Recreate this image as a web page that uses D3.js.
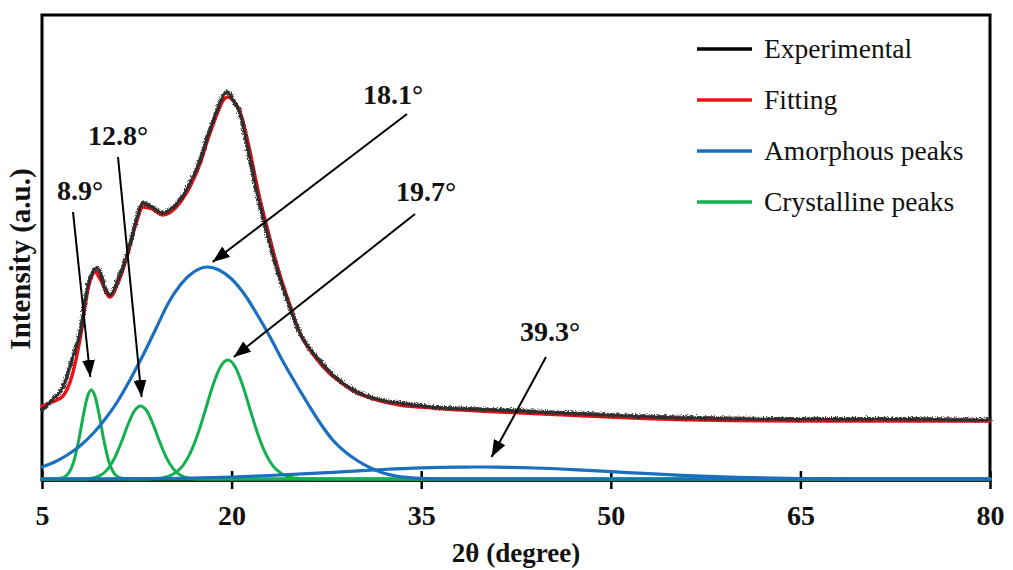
<!DOCTYPE html>
<html>
<head>
<meta charset="utf-8">
<script src="https://cdn.jsdelivr.net/npm/d3@7"></script>
<style>
  html, body { margin: 0; padding: 0; background: #ffffff; }
  svg { display: block; }
  text { font-family: "Liberation Serif", "Times New Roman", serif; fill: #111; }
</style>
</head>
<body>
<svg id="chart" width="1013" height="570"></svg>
<script>
// ---- XRD profile: measured pattern, fitted sum and deconvoluted peaks (a.u.) ----

const xTicks = [5, 20, 35, 50, 65, 80];

// Measured pattern
const expTheta = [5.0, 5.8, 6.66, 7.37, 8.0, 8.64, 9.0, 9.35, 9.65, 9.9, 10.38, 11.0, 11.72, 12.36, 13.0, 13.7, 14.57, 15.3, 15.9, 16.7, 17.5, 18.13, 18.85, 19.24, 19.64, 20.03, 20.66, 21.3, 22.0, 22.8, 23.6, 24.4, 25.4, 26.6, 27.8, 28.6, 29.5, 30.5, 31.5, 33.3, 35.9, 41.2, 46.5, 51.8, 57.1, 65.0, 73.7, 80.0];
const expInt   = [69, 79, 92, 119, 146, 194, 207, 211, 205, 194, 184, 199, 224, 254, 276, 272, 266, 271, 279, 296, 319, 344, 369, 381, 387, 381, 366, 329, 286, 246, 209, 179, 146, 124, 107, 98, 90, 84, 80, 76, 72, 69, 66, 63, 61, 60, 60, 59];

// Fitted envelope
const fitTheta = [5.0, 5.8, 6.66, 7.37, 8.0, 8.64, 9.2, 9.6, 10.38, 11.0, 11.72, 12.36, 13.0, 13.7, 14.57, 15.3, 15.9, 16.7, 17.5, 18.13, 18.85, 19.3, 19.7, 20.15, 20.75, 21.4, 22.1, 22.9, 23.7, 24.5, 25.4, 26.6, 27.8, 28.6, 29.5, 30.5, 31.5, 33.3, 35.9, 41.2, 46.5, 51.8, 57.1, 65.0, 73.7, 80.0];
const fitInt   = [73, 77, 83, 103, 139, 190, 207, 200, 182, 196, 222, 252, 272, 270, 264, 268, 276, 292, 315, 340, 365, 378, 382, 378, 364, 331, 288, 247, 209, 178, 146, 122, 105, 97, 89, 83, 79, 74, 71, 67, 64, 61, 59, 58, 58, 58];

// Amorphous peak centred at 18.1°
const amo1Theta = [5, 6, 7, 8, 9, 10, 11, 12, 13, 14, 15, 16, 17, 18.1, 19, 20, 21, 22, 23, 24, 25, 26, 27, 28, 29, 30, 31, 32, 33, 34, 35, 37, 40, 80];
const amo1Int   = [12, 17, 24, 33, 45, 60, 78, 100, 124, 150, 176, 195, 207, 212, 209, 200, 185, 165, 143, 119, 97, 76, 56, 39, 27, 18, 11, 6, 3, 1.5, 0.6, 0, 0, 0];

// Amorphous peak centred at 39.3°
const amo2Theta = [5, 12, 17, 20, 23, 26, 29, 32, 35, 38, 39.3, 41, 44, 47, 50, 53, 56, 60, 65, 70, 80];
const amo2Int   = [0, 0.3, 1, 2, 3.5, 5.3, 7.4, 9.5, 11.1, 11.9, 12, 11.8, 11, 9.4, 7.4, 5.3, 3.4, 1.7, 0.5, 0.1, 0];

// Crystalline peak centred at 8.9°
const cry1Theta = [5, 6.5, 7.0, 7.5, 7.9, 8.3, 8.6, 8.9, 9.2, 9.5, 9.9, 10.3, 10.8, 11.3, 12, 80];
const cry1Int   = [0, 0.7, 4.2, 17, 38.3, 65.7, 82.5, 89, 82.5, 65.7, 38.3, 17, 4.2, 0.7, 0, 0];

// Crystalline peak centred at 12.8°
const cry2Theta = [5, 7.8, 8.8, 9.6, 10.2, 10.8, 11.3, 11.8, 12.3, 12.8, 13.3, 13.8, 14.3, 14.8, 15.4, 16.0, 16.8, 18, 80];
const cry2Int   = [0, 0, 0.6, 3.5, 9.9, 22.4, 37.5, 54.3, 67.8, 73, 67.8, 54.3, 37.5, 22.4, 9.9, 3.5, 0.6, 0, 0];

// Crystalline peak centred at 19.7°
const cry3Theta = [5, 13, 14.5, 15.4, 16.1, 16.7, 17.3, 17.9, 18.5, 19.1, 19.7, 20.3, 20.9, 21.5, 22.1, 22.7, 23.3, 24.0, 24.9, 26.5, 80];
const cry3Int   = [0, 0, 1.1, 4.9, 12.6, 25.1, 43.9, 67.9, 92.8, 111.8, 119, 111.8, 92.8, 67.9, 43.9, 25.1, 12.6, 4.9, 1.1, 0, 0];

// Peak annotations
const peakLabels  = ["8.9°", "12.8°", "18.1°", "19.7°", "39.3°"];
const peakCenters = [8.9, 12.8, 18.1, 19.7, 39.3];
const peakHeights = [89, 73, 212, 119, 12];

const legendLabels = ["Experimental", "Fitting", "Amorphous peaks", "Crystalline peaks"];

// ---- layout & style ----
const margin = { left: 42, right: 990, top: 15, bottom: 479 };
const colors = { exp: "#2e2e2e", fit: "#f20f16", amo: "#1a6fc0", cry: "#12b04e" };

// text anchor (x, baseline), arrow tail, and tip offset from the peak top
const annLayout = [
  { tx: 57,  ty: 200, sx: 73,  sy: 212, dx: -1, dy: -13 },
  { tx: 88,  ty: 145, sx: 118, sy: 157, dx: 1,  dy: -9 },
  { tx: 363, ty: 104, sx: 407, sy: 114, dx: 5,  dy: -5 },
  { tx: 396, ty: 201, sx: 415, sy: 214, dx: 6,  dy: -3 },
  { tx: 520, ty: 341, sx: 546, sy: 357, dx: 16, dy: -10 }
];

const svg = d3.select("#chart");

const x = d3.scaleLinear().domain([5, 80]).range([margin.left, margin.right]);
const y = d3.scaleLinear().domain([0, 464]).range([margin.bottom, margin.top]);

const defs = svg.append("defs");

// grainy edge for the measured trace
const f = defs.append("filter").attr("id", "grain")
  .attr("x", "-5%").attr("y", "-5%").attr("width", "110%").attr("height", "110%");
f.append("feTurbulence").attr("type", "fractalNoise").attr("baseFrequency", "0.9 0.7")
  .attr("numOctaves", 2).attr("seed", 3).attr("result", "n");
f.append("feDisplacementMap").attr("in", "SourceGraphic").attr("in2", "n")
  .attr("scale", 5.5).attr("xChannelSelector", "R").attr("yChannelSelector", "G");

defs.append("marker").attr("id", "head")
  .attr("viewBox", "0 0 17 13").attr("refX", 17).attr("refY", 6.5)
  .attr("markerUnits", "userSpaceOnUse").attr("markerWidth", 17).attr("markerHeight", 13)
  .attr("orient", "auto")
  .append("path").attr("d", "M0,0 L17,6.5 L0,13 Z").attr("fill", "#000");

const line = d3.line()
  .x(d => x(d[0]))
  .y(d => y(d[1]))
  .curve(d3.curveMonotoneX);

const zipPts = (a, b) => a.map((t, i) => [t, b[i]]);

function drawSeries(theta, inten, color, width, extra) {
  const p = svg.append("path")
    .attr("d", line(zipPts(theta, inten)))
    .attr("fill", "none")
    .attr("stroke", color)
    .attr("stroke-width", width)
    .attr("stroke-linejoin", "round")
    .attr("stroke-linecap", "round");
  if (extra) extra(p);
  return p;
}

// x axis (bottom of the frame)
const xAxis = d3.axisBottom(x).tickValues(xTicks).tickSize(9).tickSizeOuter(0).tickFormat(d3.format("d"));
const gx = svg.append("g").attr("transform", `translate(0,${margin.bottom + 1})`).call(xAxis);
gx.select(".domain").attr("stroke", "#000").attr("stroke-width", 2.5);
gx.selectAll(".tick line").attr("y1", -9).attr("y2", 9).attr("stroke", "#000").attr("stroke-width", 2.5);
gx.selectAll(".tick text")
  .attr("y", 45).attr("dy", 0)
  .style("font-family", '"Liberation Serif", "Times New Roman", serif')
  .style("font-size", "28px").style("font-weight", "bold").attr("fill", "#111");

// frame
svg.append("rect")
  .attr("x", margin.left).attr("y", margin.top)
  .attr("width", margin.right - margin.left).attr("height", margin.bottom + 1 - margin.top)
  .attr("fill", "none").attr("stroke", "#000").attr("stroke-width", 3);

// deconvoluted components
drawSeries(cry1Theta, cry1Int, colors.cry, 3);
drawSeries(cry2Theta, cry2Int, colors.cry, 3);
drawSeries(cry3Theta, cry3Int, colors.cry, 3);
drawSeries(amo2Theta, amo2Int, colors.amo, 3.2);
drawSeries(amo1Theta, amo1Int, colors.amo, 3.2);

// fitted envelope, then measured pattern on top
drawSeries(fitTheta, fitInt, colors.fit, 3.4);
drawSeries(expTheta, expInt, colors.exp, 2.2);
drawSeries(expTheta, expInt, colors.exp, 3.8, p => p.attr("filter", "url(#grain)").attr("opacity", 0.9));

// peak labels with arrows
peakLabels.forEach((lab, i) => {
  const L = annLayout[i];
  const tipX = x(peakCenters[i]) + L.dx;
  const tipY = y(peakHeights[i]) + L.dy;
  svg.append("line")
    .attr("x1", L.sx).attr("y1", L.sy).attr("x2", tipX).attr("y2", tipY)
    .attr("stroke", "#000").attr("stroke-width", 2)
    .attr("marker-end", "url(#head)");
  svg.append("text")
    .attr("x", L.tx).attr("y", L.ty)
    .style("font-size", "28px").style("font-weight", "bold")
    .text(lab);
});

// legend
const legendColors = ["#000000", colors.fit, colors.amo, colors.cry];
const lg = svg.append("g").attr("transform", "translate(697,49)");
legendLabels.forEach((lab, i) => {
  const gy = i * 51;
  lg.append("line").attr("x1", 0).attr("x2", 55).attr("y1", gy).attr("y2", gy)
    .attr("stroke", legendColors[i]).attr("stroke-width", 3.5);
  lg.append("text").attr("x", 67).attr("y", gy + 9)
    .style("font-size", "27.5px")
    .text(lab);
});

// axis titles
svg.append("text")
  .attr("x", (margin.left + margin.right) / 2).attr("y", 562)
  .attr("text-anchor", "middle")
  .style("font-size", "27px").style("font-weight", "bold")
  .text("2θ (degree)");

svg.append("text")
  .attr("transform", `translate(30,${(margin.top + margin.bottom) / 2 + 12}) rotate(-90)`)
  .attr("text-anchor", "middle")
  .style("font-size", "29px").style("font-weight", "bold")
  .text("Intensity (a.u.)");
</script>
</body>
</html>
